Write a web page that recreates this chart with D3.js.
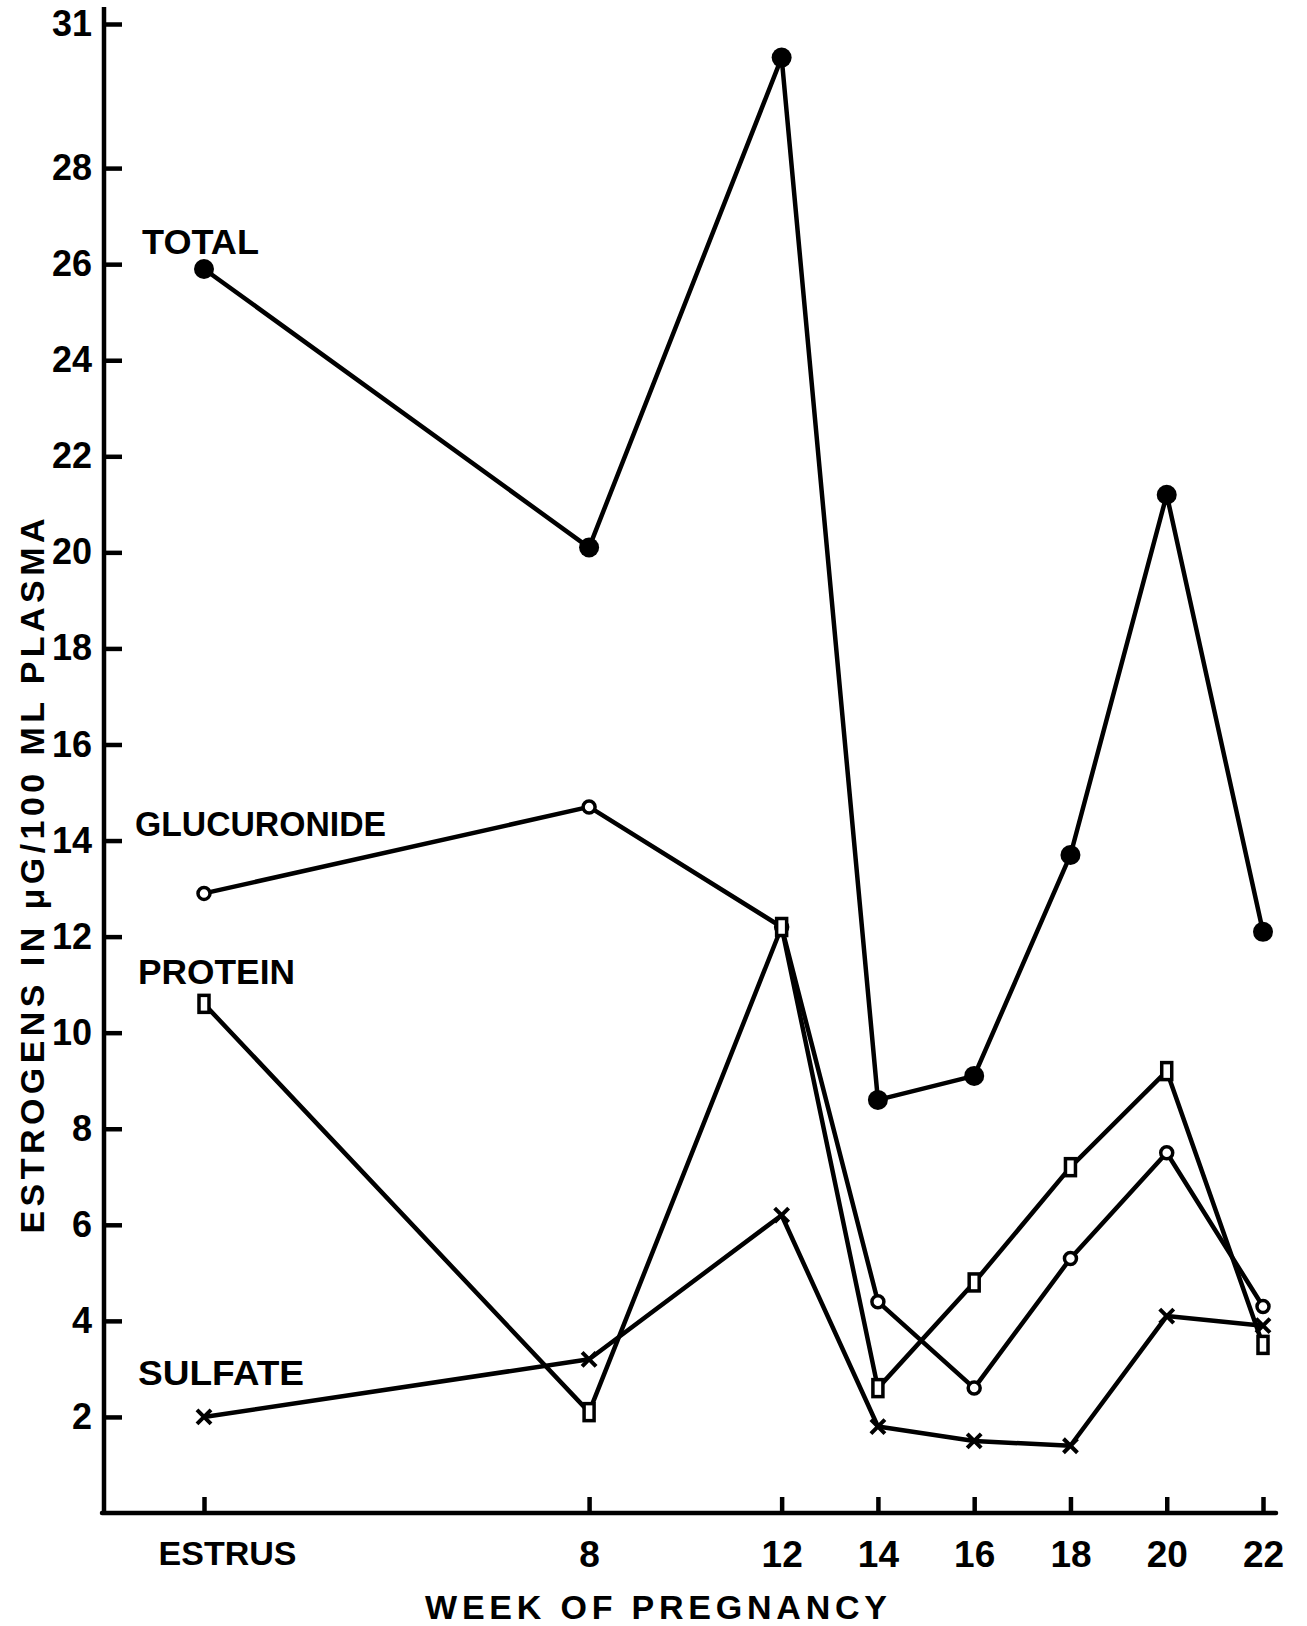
<!DOCTYPE html>
<html>
<head>
<meta charset="utf-8">
<script src="https://cdn.jsdelivr.net/npm/d3@7"></script>
<style>
  body { margin: 0; background: #fff; }
  text { font-family: "Liberation Sans", Arial, sans-serif; font-weight: bold; fill: #000; }
</style>
</head>
<body>
<svg id="chart"></svg>
<script>
//Data (week 0 = estrus)
const weeks = [0, 8, 12, 14, 16, 18, 20, 22];
const weekLabels = ["ESTRUS", "8", "12", "14", "16", "18", "20", "22"];
const total = [25.9, 20.1, 30.3, 8.6, 9.1, 13.7, 21.2, 12.1];
const glucuronide = [12.9, 14.7, 12.2, 4.4, 2.6, 5.3, 7.5, 4.3];
const protein = [10.6, 2.1, 12.2, 2.6, 4.8, 7.2, 9.2, 3.5];
const sulfate = [2.0, 3.2, 6.2, 1.8, 1.5, 1.4, 4.1, 3.9];
const yTicks = [2, 4, 6, 8, 10, 12, 14, 16, 18, 20, 22, 24, 26, 28, 31];

const series = [
  { name: "TOTAL", values: total, marker: "dot" },
  { name: "GLUCURONIDE", values: glucuronide, marker: "ring" },
  { name: "PROTEIN", values: protein, marker: "box" },
  { name: "SULFATE", values: sulfate, marker: "cross" }
];

//Where the hand lettering sits: [x, baseline, width]
const labelPos = {
  TOTAL: [142, 254, 117],
  GLUCURONIDE: [135, 836, 251],
  PROTEIN: [138, 984, 157],
  SULFATE: [138, 1385, 166]
};

const width = 1307;
const height = 1626;
const axisX = 104; //left axis position
const axisY = 1513; //bottom axis position
const ink = 4.5; //pen width

const svg = d3.select("#chart")
  .attr("width", width)
  .attr("height", height);

const x = d3.scaleLinear().domain([0, 22]).range([204, 1263]);
const y = d3.scaleLinear().domain([0, 31]).range([axisY, 24]);

//Axis lines (drawn by hand so they run past the outer ticks)
svg.append("line")
  .attr("x1", axisX).attr("x2", axisX)
  .attr("y1", 7).attr("y2", axisY + 2)
  .attr("stroke", "#000").attr("stroke-width", ink);
svg.append("line")
  .attr("x1", axisX - 2).attr("x2", 1276)
  .attr("y1", axisY).attr("y2", axisY)
  .attr("stroke", "#000").attr("stroke-width", ink)
  .attr("stroke-linecap", "round");

//Y axis: ticks point inward
const yAxis = svg.append("g")
  .attr("transform", `translate(${axisX},0)`)
  .call(d3.axisLeft(y).tickValues(yTicks).tickFormat(d3.format("d"))
    .tickSizeInner(-18).tickSizeOuter(0).tickPadding(12));
yAxis.select(".domain").remove();
yAxis.selectAll(".tick line").attr("stroke-width", ink);
yAxis.selectAll(".tick text").attr("font-size", 36);

//X axis
const xAxis = svg.append("g")
  .attr("transform", `translate(0,${axisY})`)
  .call(d3.axisBottom(x).tickValues(weeks).tickFormat((d, i) => weekLabels[i])
    .tickSizeInner(-16).tickSizeOuter(0).tickPadding(28));
xAxis.select(".domain").remove();
xAxis.selectAll(".tick line").attr("stroke-width", ink);
xAxis.selectAll(".tick text")
  .attr("font-size", (d) => d === 0 ? 34 : 37)
  .attr("dx", (d) => d === 0 ? 23 : 0);

//Axis titles
svg.append("text")
  .attr("x", 425).attr("y", 1619)
  .attr("font-size", 34)
  .attr("textLength", 462)
  .attr("lengthAdjust", "spacing")
  .text("WEEK OF PREGNANCY");

svg.append("text")
  .attr("transform", "translate(44,876) rotate(-90)")
  .attr("text-anchor", "middle")
  .attr("font-size", 34)
  .attr("textLength", 715)
  .attr("lengthAdjust", "spacing")
  .text("ESTROGENS IN \u03BCG/100 ML PLASMA");

//Lines
const line = d3.line()
  .x((d, i) => x(weeks[i]))
  .y((d) => y(d));

const gSeries = svg.selectAll("g.series")
  .data(series)
  .enter()
  .append("g")
  .classed("series", true);

gSeries.append("path")
  .attr("d", (s) => line(s.values))
  .attr("fill", "none")
  .attr("stroke", "#000")
  .attr("stroke-width", ink)
  .attr("stroke-linejoin", "round");

//Markers
gSeries.each(function (s) {
  const pts = d3.select(this).selectAll("g.pt")
    .data(s.values)
    .enter()
    .append("g")
    .attr("transform", (d, i) => `translate(${x(weeks[i])},${y(d)})`);

  if (s.marker === "dot") {
    pts.append("circle").attr("r", 10).attr("fill", "#000");
  } else if (s.marker === "ring") {
    pts.append("circle").attr("r", 6)
      .attr("fill", "#fff").attr("stroke", "#000").attr("stroke-width", 3.5);
  } else if (s.marker === "box") {
    pts.append("rect")
      .attr("x", -5).attr("y", -8.5).attr("width", 10).attr("height", 17)
      .attr("fill", "#fff").attr("stroke", "#000").attr("stroke-width", 3.5);
  } else {
    pts.append("path")
      .attr("d", "M-7,-7L7,7M-7,7L7,-7")
      .attr("stroke", "#000").attr("stroke-width", 4);
  }
});

//Series labels
svg.selectAll("text.label")
  .data(series)
  .enter()
  .append("text")
  .classed("label", true)
  .attr("x", (s) => labelPos[s.name][0])
  .attr("y", (s) => labelPos[s.name][1])
  .attr("font-size", 35)
  .attr("textLength", (s) => labelPos[s.name][2])
  .attr("lengthAdjust", "spacingAndGlyphs")
  .text((s) => s.name);
</script>
</body>
</html>
